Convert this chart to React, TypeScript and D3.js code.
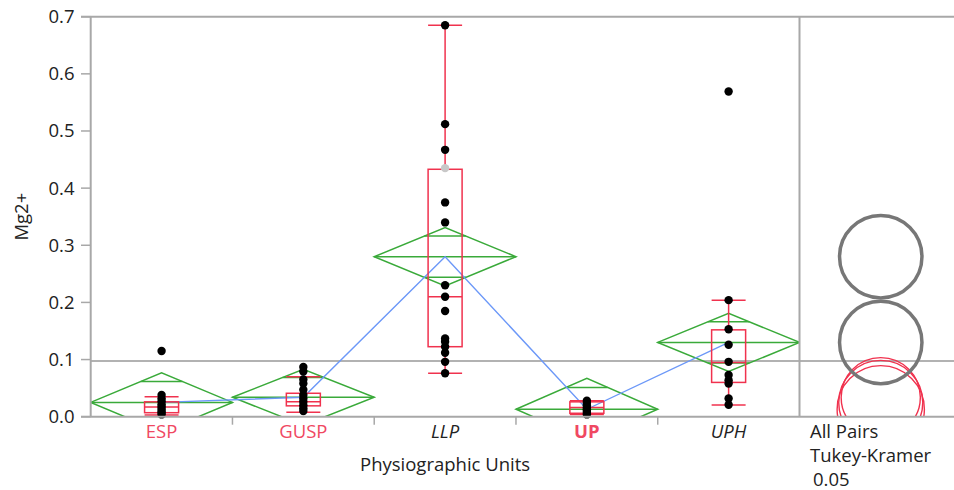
import React from "react";
import * as d3 from "d3";

// Groups and their summary statistics (Mg2+ by physiographic unit)
const categories = ["ESP", "GUSP", "LLP", "UP", "UPH"];
const means = [0.025, 0.034, 0.28, 0.013, 0.13];
const ciHalf = [0.052, 0.049, 0.051, 0.054, 0.051];
const q1 = [0.007, 0.019, 0.1225, 0.006, 0.06];
const medians = [0.017, 0.026, 0.21, 0.016, 0.095];
const q3 = [0.026, 0.041, 0.433, 0.026, 0.152];
const whiskerLo = [0.003, 0.008, 0.076, 0.004, 0.0205];
const whiskerHi = [0.035, 0.07, 0.685, 0.028, 0.204];
const grandMean = 0.0975;

// Individual observations
const espValues = [0.115, 0.038, 0.032, 0.027, 0.022, 0.018, 0.014, 0.01, 0.007, 0.004];
const guspValues = [0.087, 0.079, 0.065, 0.058, 0.047, 0.038, 0.032, 0.026, 0.02, 0.015, 0.01];
const llpValues = [0.685, 0.512, 0.467, 0.375, 0.34, 0.23, 0.21, 0.185, 0.137, 0.131, 0.1225, 0.112, 0.096, 0.076];
const llpHidden = [0.435];
const upValues = [0.028, 0.024, 0.02, 0.016, 0.013, 0.01, 0.007, 0.004];
const uphValues = [0.569, 0.204, 0.153, 0.126, 0.096, 0.073, 0.064, 0.058, 0.032, 0.021];
const groupValues = [espValues, guspValues, llpValues, upValues, uphValues];

const yTicks = [0, 0.1, 0.2, 0.3, 0.4, 0.5, 0.6, 0.7];
// Groups not significantly different from the selected one are drawn in red
const significant = [false, false, true, false, true];
const selected = "UP";

const W = 954;
const H = 490;
const left = 90.7;
const right = 799.5;
const top = 16.7;
const bottom = 416.7;
const panelRight = 954;

const RED = "#f0324e";
const LABEL_RED = "#f04862";
const GREEN = "#3aaa3a";
const BLUE = "#6c98f8";
const AXIS = "#a8a8a8";
const TEXT = "#222";
const FONT = "'Open Sans', sans-serif";
const FS = 18.5;

export default function App() {
  const x = d3.scaleBand<string>().domain(categories).range([left, right]);
  const y = d3.scaleLinear().domain([0, 0.7]).range([bottom, top]);
  const bw = x.bandwidth();
  const boxW = 34;

  const meanLine = d3
    .line<number>()
    .x((_, i) => x(categories[i])! + bw / 2)
    .y((d) => y(d));

  const circleX = (right + panelRight) / 2 + 4;
  const rPx = (i: number) => y(0) - y(ciHalf[i] * Math.SQRT2);

  return (
    <svg
      width={W}
      height={H}
      style={{ position: "absolute", left: 0, top: 0, display: "block", background: "#fff" }}
      fontFamily={FONT}
    >
      <defs>
        <clipPath id="plotClip">
          <rect x={left} y={top} width={right - left} height={bottom - top} />
        </clipPath>
        <clipPath id="panelClip">
          <rect x={right} y={top} width={panelRight - right} height={bottom - top} />
        </clipPath>
      </defs>

      {/* grand mean reference */}
      <line x1={left} x2={panelRight} y1={y(grandMean)} y2={y(grandMean)} stroke="#999" strokeWidth={1.5} />

      {/* means diamonds */}
      <g clipPath="url(#plotClip)" fill="none" stroke={GREEN} strokeWidth={1.5}>
        {categories.map((c, i) => {
          const x0 = x(c)!;
          const cx = x0 + bw / 2;
          const m = means[i];
          const h = ciHalf[i];
          const ov = h / Math.SQRT2;
          const frac = 1 - 1 / Math.SQRT2;
          return (
            <g key={c}>
              <path
                d={`M${x0},${y(m)}L${cx},${y(m + h)}L${x0 + bw},${y(m)}L${cx},${y(m - h)}Z`}
              />
              <line x1={x0} x2={x0 + bw} y1={y(m)} y2={y(m)} />
              <line x1={cx - (bw / 2) * frac} x2={cx + (bw / 2) * frac} y1={y(m + ov)} y2={y(m + ov)} />
              <line x1={cx - (bw / 2) * frac} x2={cx + (bw / 2) * frac} y1={y(m - ov)} y2={y(m - ov)} />
            </g>
          );
        })}
      </g>

      {/* connecting line through group means */}
      <path d={meanLine(means)!} fill="none" stroke={BLUE} strokeWidth={1.4} />

      {/* box plots */}
      <g fill="none" stroke={RED} strokeWidth={1.5} clipPath="url(#plotClip)">
        {categories.map((c, i) => {
          const cx = x(c)! + bw / 2;
          return (
            <g key={c}>
              <line x1={cx} x2={cx} y1={y(whiskerHi[i])} y2={y(q3[i])} />
              <line x1={cx} x2={cx} y1={y(q1[i])} y2={y(whiskerLo[i])} />
              <line x1={cx - boxW / 2} x2={cx + boxW / 2} y1={y(whiskerHi[i])} y2={y(whiskerHi[i])} />
              <line x1={cx - boxW / 2} x2={cx + boxW / 2} y1={y(whiskerLo[i])} y2={y(whiskerLo[i])} />
              <rect x={cx - boxW / 2} y={y(q3[i])} width={boxW} height={y(q1[i]) - y(q3[i])} />
              <line x1={cx - boxW / 2} x2={cx + boxW / 2} y1={y(medians[i])} y2={y(medians[i])} />
            </g>
          );
        })}
      </g>

      {/* observations */}
      <g>
        {llpHidden.map((v, j) => (
          <circle key={"h" + j} cx={x("LLP")! + bw / 2} cy={y(v)} r={4.2} fill="#c8c8c8" />
        ))}
        {groupValues.map((vals, i) =>
          vals.map((v, j) => (
            <circle key={i + "-" + j} cx={x(categories[i])! + bw / 2} cy={y(v)} r={4.2} fill="#000" />
          ))
        )}
      </g>

      {/* comparison circles */}
      <g clipPath="url(#panelClip)" fill="none">
        {categories.map((c, i) =>
          significant[i] ? null : (
            <circle key={c} cx={circleX} cy={y(means[i])} r={rPx(i)} stroke={RED} strokeWidth={1.4} />
          )
        )}
        {categories.map((c, i) =>
          significant[i] ? (
            <circle key={c} cx={circleX} cy={y(means[i])} r={rPx(i)} stroke="#777" strokeWidth={3.5} />
          ) : null
        )}
      </g>

      {/* frame */}
      <line x1={81} x2={panelRight} y1={top} y2={top} stroke={AXIS} strokeWidth={2} />
      <line x1={81} x2={panelRight} y1={bottom} y2={bottom} stroke={AXIS} strokeWidth={2} />
      <line x1={left} x2={left} y1={top} y2={bottom} stroke={AXIS} strokeWidth={2} />
      <line x1={right} x2={right} y1={top} y2={bottom} stroke={AXIS} strokeWidth={2} />

      {/* y axis */}
      {yTicks.map((t) => (
        <g key={t}>
          <line x1={81} x2={left} y1={y(t)} y2={y(t)} stroke={AXIS} strokeWidth={1.5} />
          <text x={74.5} y={y(t)} dy="0.35em" textAnchor="end" fontSize={FS} fill={TEXT}>
            {d3.format(".1f")(t)}
          </text>
        </g>
      ))}
      <text
        transform={`translate(${22},${(top + bottom) / 2}) rotate(-90)`}
        textAnchor="middle"
        dy="0.35em"
        fontSize={FS}
        fill={TEXT}
      >
        Mg2+
      </text>

      {/* x axis */}
      {categories.slice(1).map((c) => (
        <line key={c} x1={x(c)!} x2={x(c)!} y1={bottom} y2={bottom + 8} stroke={AXIS} strokeWidth={1.5} />
      ))}
      {categories.map((c, i) => {
        const isSel = c === selected;
        return (
          <text
            key={c}
            x={x(c)! + bw / 2}
            y={438}
            textAnchor="middle"
            fontSize={FS}
            fill={significant[i] ? TEXT : LABEL_RED}
            fontStyle={significant[i] ? "italic" : "normal"}
            fontWeight={isSel ? "bold" : "normal"}
          >
            {c}
          </text>
        );
      })}
      <text x={(left + right) / 2} y={471} textAnchor="middle" fontSize={FS} fill={TEXT}>
        Physiographic Units
      </text>

      {/* comparison method */}
      <text x={810} y={438} fontSize={FS} fill={TEXT}>All Pairs</text>
      <text x={810} y={462} fontSize={FS} fill={TEXT}>Tukey-Kramer</text>
      <text x={813} y={486} fontSize={FS} fill={TEXT}>0.05</text>
    </svg>
  );
}
